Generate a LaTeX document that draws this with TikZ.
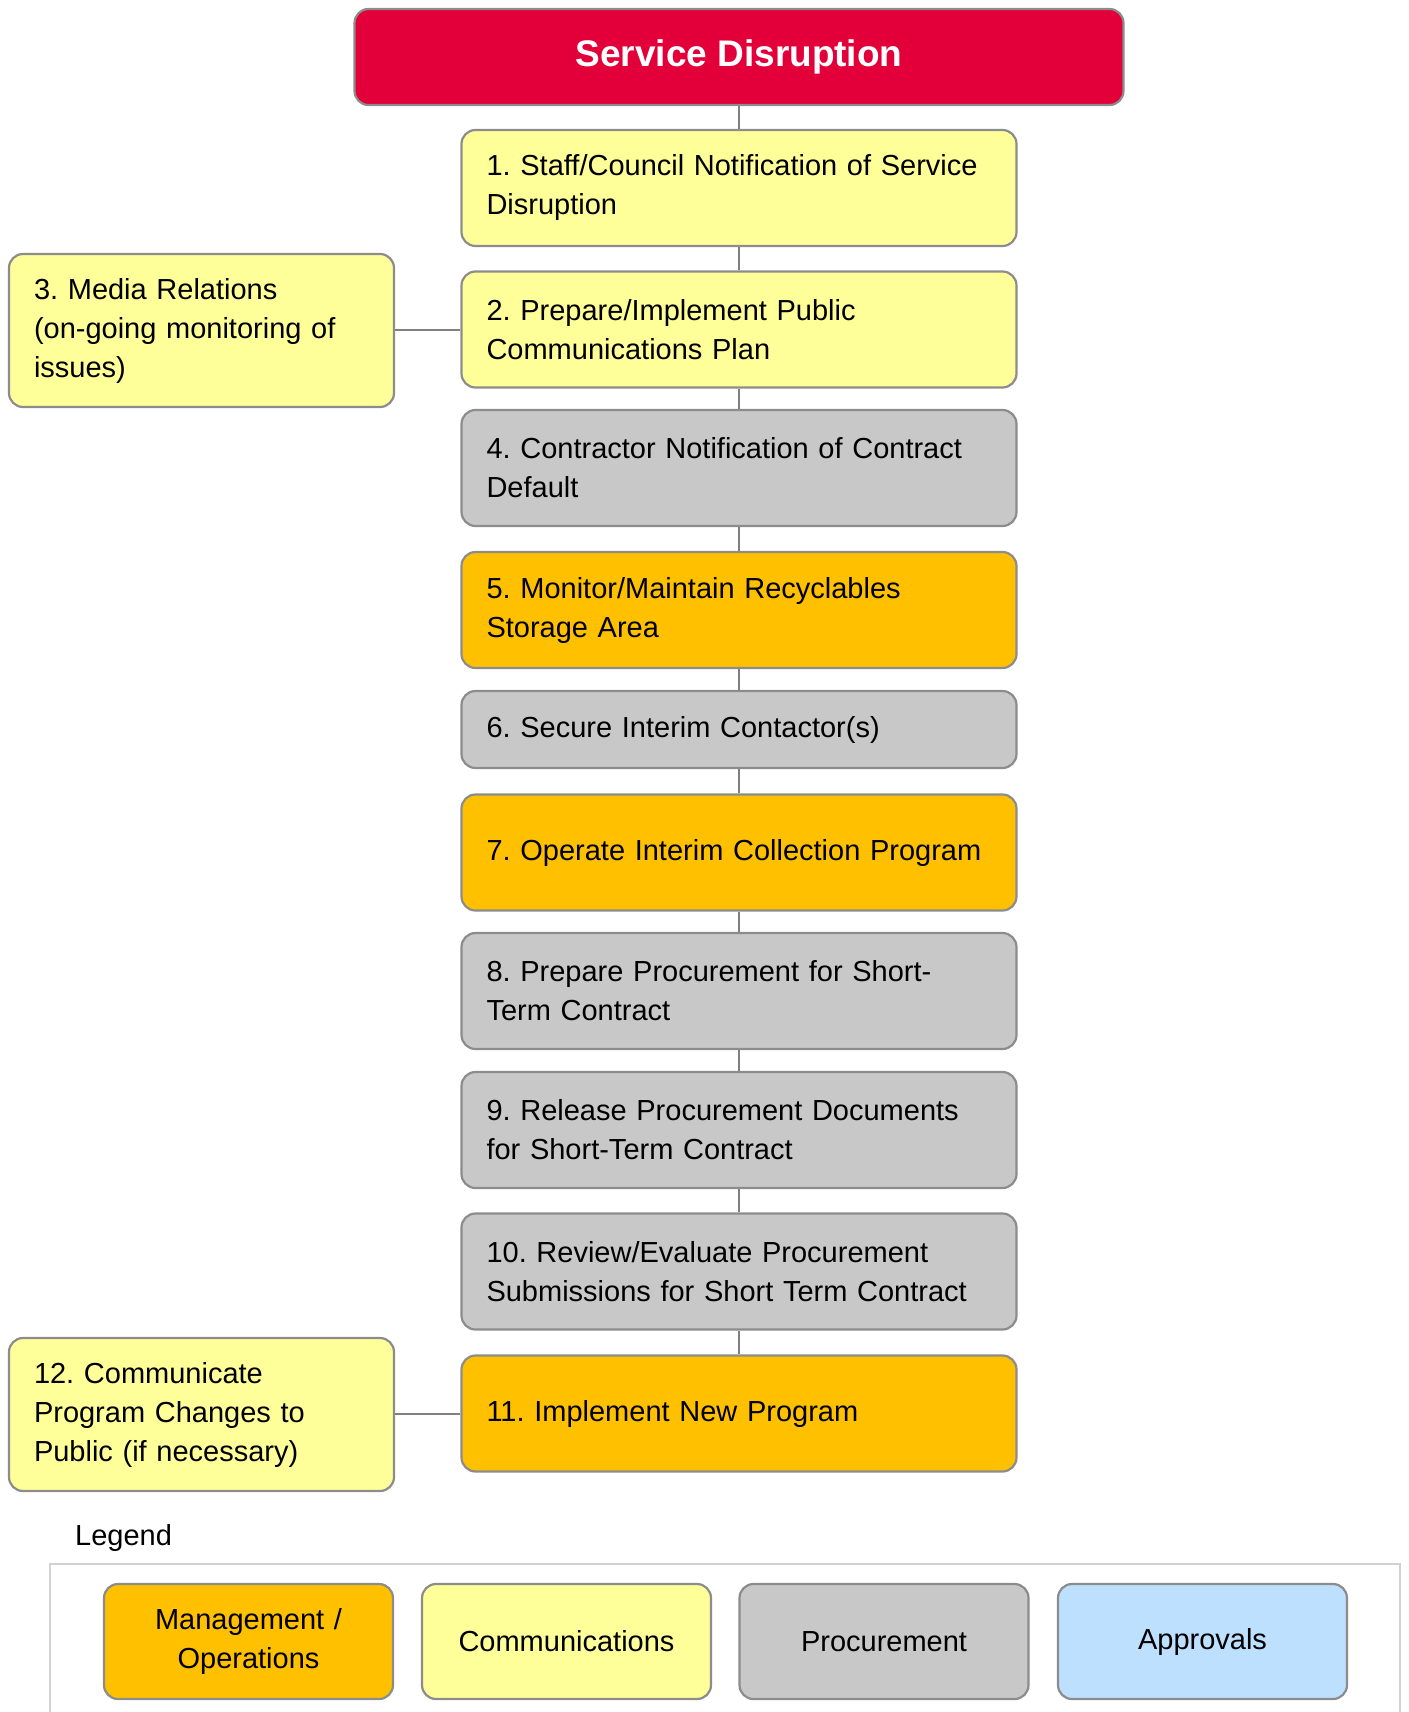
\documentclass[tikz,border=0pt]{standalone}
\usepackage{fontspec}
\setmainfont{Liberation Sans}
\frenchspacing
\definecolor{sdred}{RGB}{227,0,58}
\definecolor{cyellow}{RGB}{255,255,153}
\definecolor{corange}{RGB}{255,192,0}
\definecolor{cgray}{RGB}{200,200,200}
\definecolor{cblue}{RGB}{189,224,255}
\definecolor{bordergray}{RGB}{140,140,140}
\definecolor{linegray}{RGB}{128,128,128}
\definecolor{framegray}{RGB}{210,210,210}
\begin{document}
\frenchspacing
\begin{tikzpicture}[x=1pt,y=-1pt,
  basebox/.style={draw=bordergray, line width=2.2pt, rounded corners=14pt, inner ysep=0pt, font=\fontsize{29}{39}\selectfont\frenchspacing},
  mainbox/.style={basebox, inner xsep=25pt, text width=505pt, align=left, minimum height=116pt},
  sidebox/.style={basebox, fill=cyellow, inner xsep=25pt, text width=335pt, align=left, minimum height=153pt},
  legbox/.style={basebox, inner xsep=0pt, text width=289pt, align=center, minimum height=115pt},
  comm/.style={fill=cyellow},
  mgmt/.style={fill=corange},
  proc/.style={fill=cgray},
  appr/.style={fill=cblue},
  conn/.style={draw=linegray, line width=2pt}
]
\useasboundingbox (0,0) rectangle (1408,1712);

\node[basebox, fill=sdred, text=white, minimum width=769pt, minimum height=96pt, font=\fontsize{37}{44}\selectfont\bfseries] (top) at (739,57) {\raisebox{-2pt}{Service Disruption}};

\node[mainbox, comm] (b1) at (739,188) {1. Staff/Council Notification of Service\\Disruption};
\node[mainbox, comm] (b2) at (739,329.5) {2. Prepare/Implement Public\\Communications Plan};
\node[sidebox] (b3) at (201.5,330.5) {3. Media Relations\\(on-going monitoring of\\issues)};
\node[mainbox, proc] (b4) at (739,468) {4. Contractor Notification of Contract\\Default};
\node[mainbox, mgmt] (b5) at (739,610) {5. Monitor/Maintain Recyclables\\Storage Area};
\node[mainbox, proc, minimum height=77pt] (b6) at (739,729.5) {6. Secure Interim Contactor(s)};
\node[mainbox, mgmt] (b7) at (739,852.5) {7. Operate Interim Collection Program};
\node[mainbox, proc] (b8) at (739,991) {8. Prepare Procurement for Short-\\Term Contract};
\node[mainbox, proc] (b9) at (739,1130) {9. Release Procurement Documents\\for Short-Term Contract};
\node[mainbox, proc] (b10) at (739,1271.5) {10. Review/Evaluate Procurement\\Submissions for Short Term Contract};
\node[mainbox, mgmt] (b11) at (739,1413.5) {11. Implement New Program};
\node[sidebox] (b12) at (201.5,1414.5) {12. Communicate\\Program Changes to\\Public (if necessary)};

\draw[conn] (top) -- (b1);
\draw[conn] (b1) -- (b2);
\draw[conn] (b2) -- (b4);
\draw[conn] (b4) -- (b5);
\draw[conn] (b5) -- (b6);
\draw[conn] (b6) -- (b7);
\draw[conn] (b7) -- (b8);
\draw[conn] (b8) -- (b9);
\draw[conn] (b9) -- (b10);
\draw[conn] (b10) -- (b11);
\draw[conn] (b3.east |- b2.west) -- (b2.west);
\draw[conn] (b12.east |- b11.west) -- (b11.west);

\node[anchor=west, inner sep=0pt, font=\fontsize{29}{39}\selectfont] (legtitle) at (75,1538) {Legend};
\draw[draw=framegray, line width=1.8pt] (50,1716) -- (50,1564) -- (1400,1564) -- (1400,1716);

\node[legbox, mgmt] (l1) at (248.5,1641.5) {Management /\\Operations};
\node[legbox, comm] (l2) at (566.5,1641.5) {Communications};
\node[legbox, proc] (l3) at (884,1641.5) {Procurement};
\node[legbox, appr] (l4) at (1202.5,1641.5) {Approvals};
\end{tikzpicture}
\end{document}
